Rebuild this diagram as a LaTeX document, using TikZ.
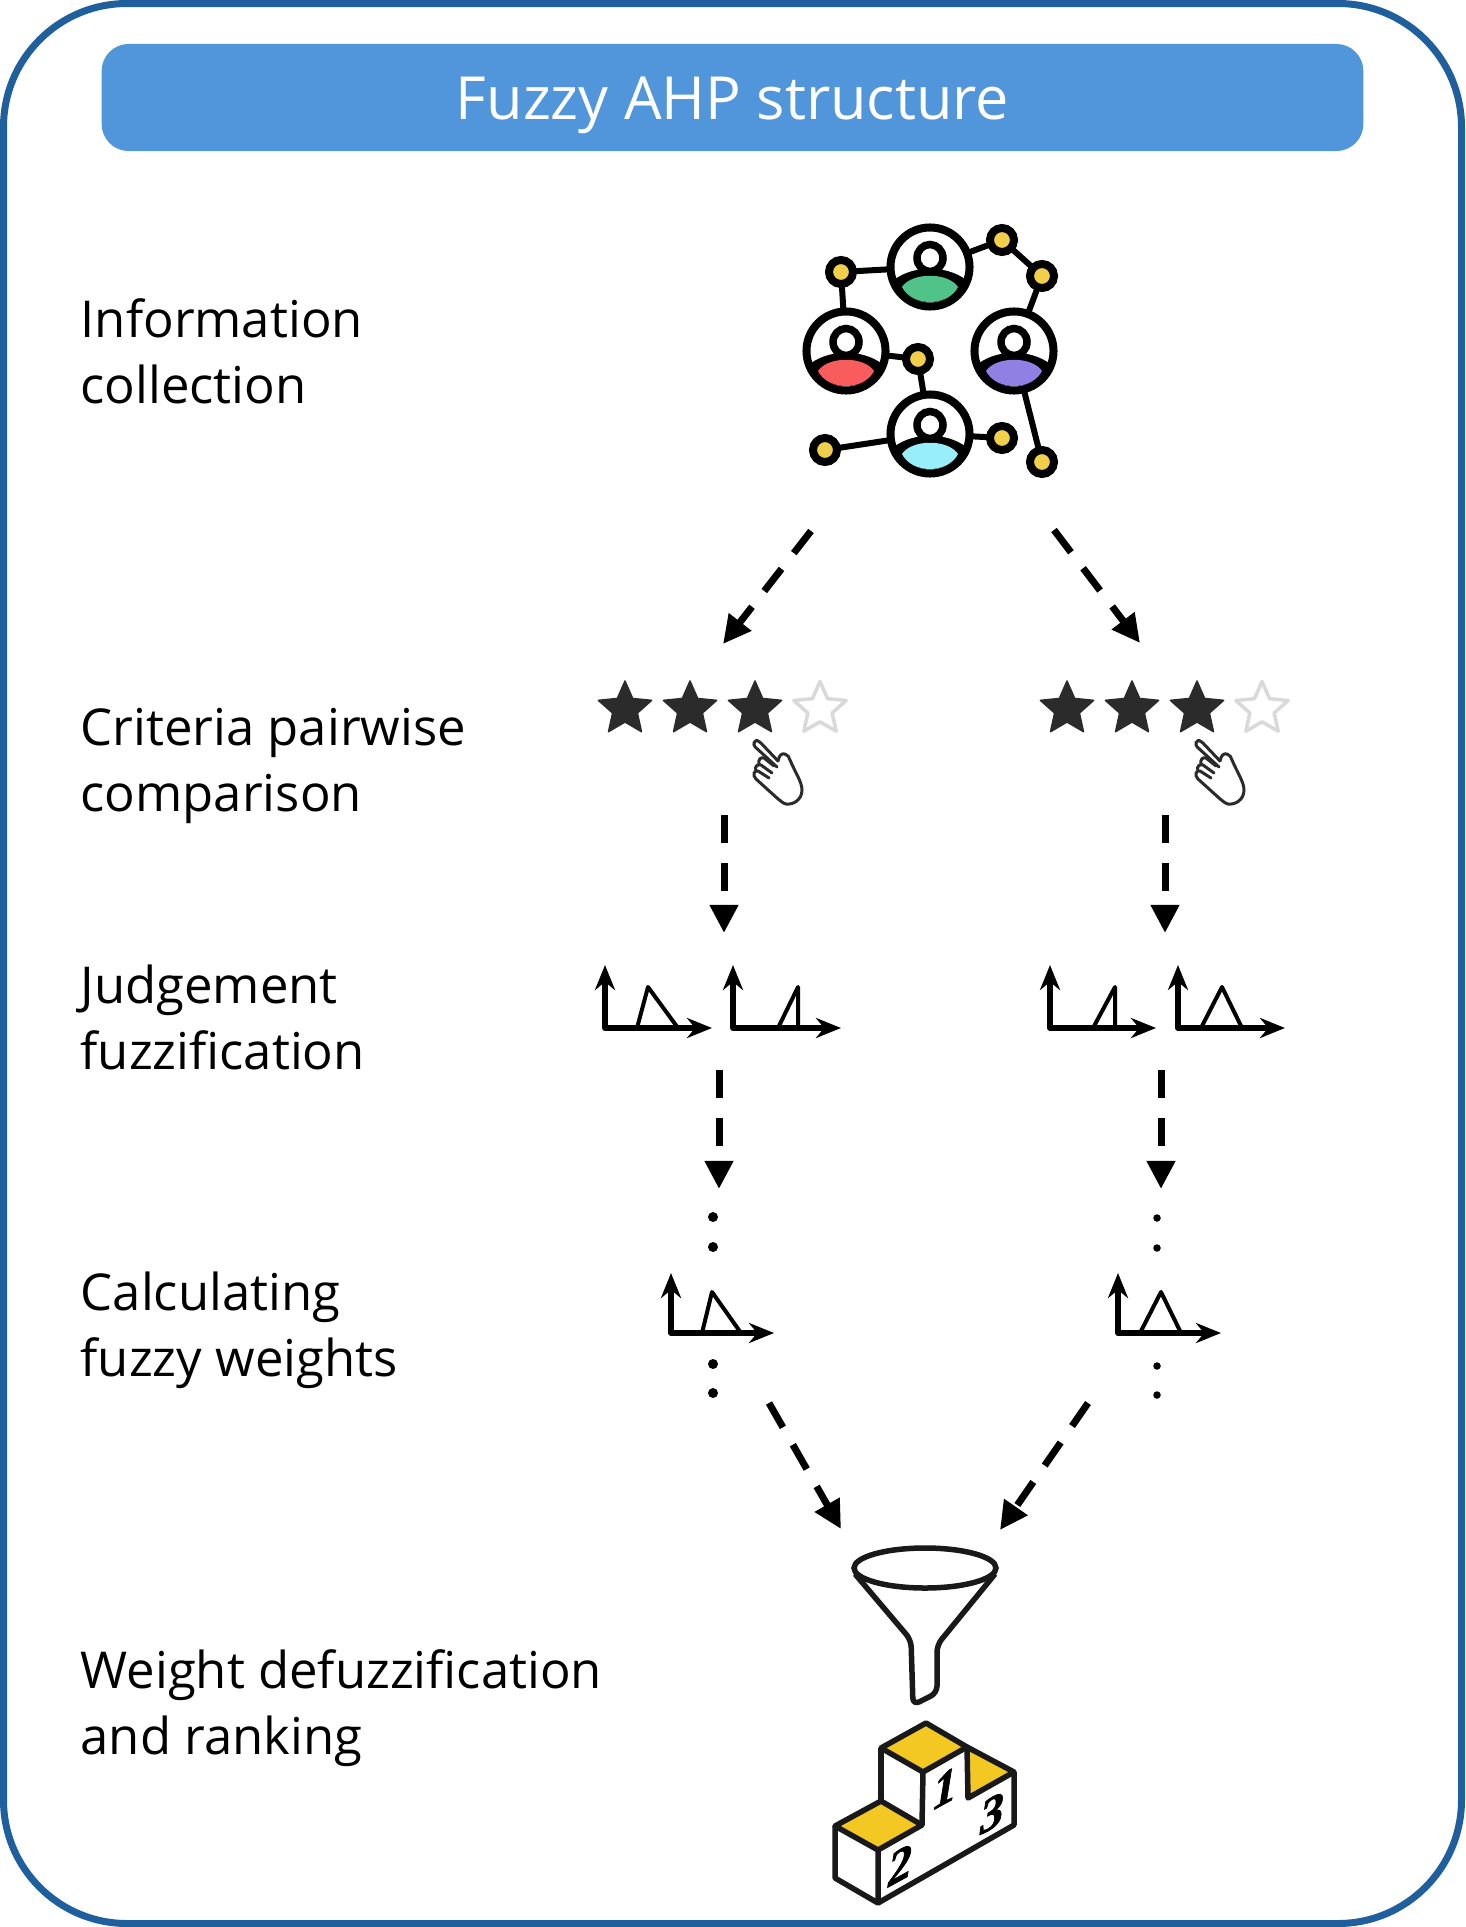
\documentclass[tikz,border=0pt]{standalone}
\usepackage{tikz}
\usetikzlibrary{shapes,arrows.meta,positioning}
\usepackage{xcolor}
\usepackage{fontspec}
\setmainfont{Open Sans}
\newfontfamily\digitfont[BoldItalicFeatures={FakeBold=1.6}]{Liberation Serif}
\definecolor{framecol}{HTML}{1F5F9E}
\definecolor{titlecol}{HTML}{5195DA}
\definecolor{nodeyellow}{HTML}{F2CF4A}
\definecolor{podiumyellow}{HTML}{F4C822}
\definecolor{lensgreen}{HTML}{50C488}
\definecolor{lensred}{HTML}{F85C5C}
\definecolor{lenspurple}{HTML}{9180E4}
\definecolor{lenscyan}{HTML}{98EEFB}
\definecolor{stardark}{HTML}{2B2B2B}
\definecolor{stargrey}{HTML}{D9D9D9}

\begin{document}
\begin{tikzpicture}[x=0.01cm, y=-0.01cm,
  ring/.style={circle, draw=black, fill=white, line width=0.08cm, minimum size=0.79cm, inner sep=0pt, outer sep=0pt},
  netdot/.style={circle, draw=black, fill=nodeyellow, line width=0.08cm, minimum size=0.24cm, inner sep=0pt, outer sep=0pt},
  netline/.style={line width=0.06cm, black},
  arr/.style={-{Triangle[length=0.28cm, width=0.27cm]}, line width=0.07cm, dash pattern=on 0.28cm off 0.2cm},
  steplabel/.style={anchor=west, align=left, inner sep=0pt, font=\fontsize{14.45}{18.78}\selectfont},
  starfull/.style={star, star points=5, star point ratio=2.15, draw=stardark, fill=stardark, line width=0.015cm, line join=round, minimum size=0.56cm, inner sep=0pt},
  starempty/.style={star, star points=5, star point ratio=2.15, draw=stargrey, fill=white, line width=0.035cm, line join=round, minimum size=0.55cm, inner sep=0pt},
  dotbig/.style={circle, fill=black, minimum size=0.1cm, inner sep=0pt},
  dotsmall/.style={circle, fill=black, minimum size=0.075cm, inner sep=0pt},
  podium/.style={line width=0.055cm, draw=black!90, line join=round},
  digit/.style={font=\digitfont\fontsize{13.5}{13.5}\selectfont\bfseries\itshape, transform shape, yslant=0.55, inner sep=0pt},
  pics/person/.style={code={
    \fill[black] (-33,15) .. controls (-15,2) and (15,2) .. (33,15) .. controls (22,42) and (-22,42) .. cycle;
    \draw[line width=0.075cm, fill=white] (0,-9) ellipse [x radius=13, y radius=13.5];
    \draw[line width=0.07cm] (-33,15) .. controls (-15,2) and (15,2) .. (33,15);
    \fill[#1] (-28,20) .. controls (-18,40) and (18,40) .. (28,20) .. controls (18,5) and (-18,5) .. cycle;
  }},
  pics/mf/.style n args={5}{code={
    \draw[line width=0.04cm, line join=round] (#1,0) -- (#2,-41) -- (#3,0);
    \draw[{Stealth[length=0.25cm, width=0.2cm]}-{Stealth[length=0.25cm, width=0.2cm]}, line width=0.06cm, line join=round] (0,-#5) -- (0,0) -- (#4,0);
  }},
  pics/hand/.style={code={
    \draw[stardark, line width=0.03cm, line join=round, line cap=round, rounded corners=0.03cm]
      (39,33) -- (20,13) -- (16,12) -- (14,17) -- (38,39);
    \draw[stardark, line width=0.03cm, line join=round, line cap=round]
      (39,33) .. controls (40,28) and (42,25) .. (46,26) .. controls (49,27) and (50,29) .. (51,32)
      .. controls (56,44) and (63,54) .. (63,62) .. controls (63,72) and (54,77) .. (47,76)
      .. controls (43,75) and (41,72) .. (38,70) -- (17,51) .. controls (13,47) and (15,42) .. (19,43) -- (30,50);
    \draw[stardark, line width=0.03cm, line cap=round]
      (17,43) .. controls (15,38) and (19,36) .. (22,37) -- (33,45)
      (20,36) .. controls (19,31) and (22,29) .. (25,30) -- (35,38);
  }}
]
  \useasboundingbox (0,0) rectangle (1465,1927);
  \draw[framecol, line width=0.07cm, rounded corners=1.235cm] (3.5,3.5) rectangle (1461.5,1923.5);
  \node[fill=titlecol, rounded corners=0.27cm, minimum width=12.61cm, minimum height=1.07cm, inner sep=0pt, text=white, text height=0.43cm, text depth=0cm, font=\fontsize{16.9}{18}\selectfont] (title) at (732.5,97.5) {Fuzzy AHP structure};

  % row labels
  \node[steplabel] (info) at (80,351) {Information\\collection};
  \node[steplabel] (crit) at (80,766) {Criteria pairwise\\comparison};
  \node[steplabel] (judge) at (80,1017) {Judgement\\fuzzification};
  \node[steplabel] (calc) at (80,1330) {Calculating\\fuzzy weights};
  \node[steplabel] (rank) at (80,1708) {Weight defuzzification\\and ranking};

  % people network
  \node[ring] (netgreen) at (930,267) {};
  \node[ring] (netred) at (846,351) {};
  \node[ring] (netpurple) at (1014,351) {};
  \node[ring] (netcyan) at (930,434) {};
  \pic at (netgreen) {person=lensgreen};
  \pic at (netred) {person=lensred};
  \pic at (netpurple) {person=lenspurple};
  \pic at (netcyan) {person=lenscyan};
  \node[netdot] (dota) at (841,272) {};
  \node[netdot] (dotb) at (1002,240) {};
  \node[netdot] (dotc) at (1042,276) {};
  \node[netdot] (dotd) at (918,359) {};
  \node[netdot] (dote) at (825,450) {};
  \node[netdot] (dotf) at (1002,438) {};
  \node[netdot] (dotg) at (1042,462) {};
  \draw[netline] (dota) -- (netgreen);
  \draw[netline] (dota) -- (netred);
  \draw[netline] (netgreen) -- (dotb);
  \draw[netline] (dotb) -- (dotc);
  \draw[netline] (dotc) -- (netpurple);
  \draw[netline] (netred) -- (dotd);
  \draw[netline] (dotd) -- (netcyan);
  \draw[netline] (dote) -- (netcyan);
  \draw[netline] (netcyan) -- (dotf);
  \draw[netline] (netpurple) -- (dotg);

  % ratings
  \node[starfull] (lstara) at (625,709) {};
  \node[starfull] (lstarb) at (690,709) {};
  \node[starfull] (lstarc) at (755,709) {};
  \node[starempty] (lstard) at (820,709) {};
  \node[starfull] (rstara) at (1067,709) {};
  \node[starfull] (rstarb) at (1132,709) {};
  \node[starfull] (rstarc) at (1197,709) {};
  \node[starempty] (rstard) at (1262,709) {};
  \pic at (739,728) {hand};
  \pic at (1181,728) {hand};

  % fuzzy numbers
  \pic at (605,1028) {mf={32}{43}{73}{107}{63}};
  \pic at (733,1028) {mf={45}{65}{65}{108}{63}};
  \pic at (1050,1028) {mf={43}{65}{65}{106}{63}};
  \pic at (1178,1028) {mf={23}{44}{64}{107}{63}};
  \pic at (671,1333) {mf={31}{41}{70}{103}{60}};
  \pic at (1118,1333) {mf={22}{43}{63}{103}{60}};
  \node[dotbig] (ldota) at (713,1217) {};
  \node[dotbig] (ldotb) at (713,1247) {};
  \node[dotbig] (ldotc) at (713,1364) {};
  \node[dotbig] (ldotd) at (713,1393) {};
  \node[dotsmall] (rdota) at (1157,1218) {};
  \node[dotsmall] (rdotb) at (1157,1248) {};
  \node[dotsmall] (rdotc) at (1157,1366) {};
  \node[dotsmall] (rdotd) at (1157,1395) {};

  % funnel
  \draw[line width=0.055cm, black!90, rounded corners=0.07cm, line join=round] (855,1574) -- (911,1640) -- (913,1705) -- (937,1693) -- (937,1645) -- (995,1574);
  \draw[line width=0.055cm, black!90, fill=white] (925,1568) ellipse [x radius=71, y radius=20];

  % podium
  \draw[podium, fill=podiumyellow] (926,1723) -- (967,1747) -- (923,1772) -- (881,1748) -- cycle;
  \draw[podium] (881,1748) -- (881,1801);
  \draw[podium] (923,1772) -- (922,1825);
  \draw[podium, fill=podiumyellow] (881,1801) -- (922,1825) -- (878,1850) -- (835,1826) -- cycle;
  \draw[podium] (835,1826) -- (835,1878) -- (878,1903) -- (878,1850);
  \draw[podium] (878,1903) -- (1014,1825) -- (1014,1772);
  \draw[podium, fill=podiumyellow] (967,1747) -- (1014,1772) -- (968,1798) -- cycle;
  \node[digit] (first) at (945,1788) {1};
  \node[digit] (second) at (900,1865) {2};
  \node[digit] (third) at (992,1813) {3};

  % flow
  \coordinate (netl) at (811,531);
  \coordinate (netr) at (1054,530);
  \coordinate (ratel) at (723,644);
  \coordinate (rater) at (1140,643);
  \coordinate (handl) at (724,815);
  \coordinate (handr) at (1165,815);
  \coordinate (fuzzl) at (724,933);
  \coordinate (fuzzr) at (1165,933);
  \coordinate (mfl) at (719,1070);
  \coordinate (mfr) at (1161,1070);
  \coordinate (dotl) at (719,1189);
  \coordinate (dotr) at (1161,1189);
  \coordinate (weightl) at (769,1403);
  \coordinate (weightr) at (1088,1403);
  \coordinate (funnell) at (841,1529);
  \coordinate (funnelr) at (1000,1530);
  \draw[arr] (netl) -- (ratel);
  \draw[arr] (netr) -- (rater);
  \draw[arr] (handl) -- (fuzzl);
  \draw[arr] (handr) -- (fuzzr);
  \draw[arr] (mfl) -- (dotl);
  \draw[arr] (mfr) -- (dotr);
  \draw[arr] (weightl) -- (funnell);
  \draw[arr] (weightr) -- (funnelr);
\end{tikzpicture}
\end{document}
